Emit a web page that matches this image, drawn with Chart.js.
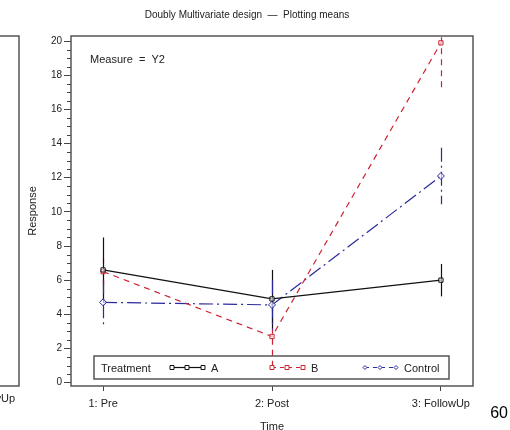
<!DOCTYPE html>
<html>
<head>
<meta charset="utf-8">
<script src="https://cdn.jsdelivr.net/npm/chart.js@4.4.1/dist/chart.umd.min.js"></script>
<style>
  html, body { margin: 0; padding: 0; background: #fff; }
  #wrap { width: 510px; height: 430px; position: relative; }
</style>
</head>
<body>
<div id="wrap"><canvas id="c" width="510" height="430"></canvas></div>
<script>
// Time points on the x axis
const timePoints = ['1: Pre', '2: Post', '3: FollowUp'];
// Group means of Y2 at each time point
const meansA = [6.6, 4.9, 6.0];
const meansB = [6.5, 2.7, 19.9];
const meansControl = [4.7, 4.55, 12.1];
// Half-length of the error bar at each time point
const errA = [1.9, 1.7, 0.95];
const errB = [0.8, 1.8, 2.9];
const errControl = [1.3, 1.45, 1.65];
// Labelled ticks on the response axis
const yTicks = [0, 2, 4, 6, 8, 10, 12, 14, 16, 18, 20];

const FONT = "'Liberation Sans', Arial, sans-serif";
const TXT = '#222';

const groups = [
  { label: 'A', means: meansA, err: errA, color: '#111111', dash: [], marker: 'rect' },
  { label: 'B', means: meansB, err: errB, color: '#cc2233', dash: [6, 5], marker: 'rect' },
  { label: 'Control', means: meansControl, err: errControl, color: '#2a2a9a', dash: [14, 4, 2, 4], marker: 'rectRot' }
];

const toPoints = arr => arr.map((v, i) => ({ x: i + 1, y: v }));

// Vertical error bars at each mean, drawn through the chart scales
const errorBars = {
  id: 'errorBars',
  beforeDatasetsDraw(chart) {
    const { ctx, chartArea: ca, scales: { x, y } } = chart;
    ctx.save();
    ctx.beginPath();
    ctx.rect(ca.left, ca.top, ca.right - ca.left, ca.bottom - ca.top);
    ctx.clip();
    const order = [1, 0, 2];
    order.forEach(gi => {
      const g = groups[gi];
      ctx.strokeStyle = g.color;
      ctx.lineWidth = 1.2;
      ctx.setLineDash(g.dash);
      g.means.forEach((m, i) => {
        const px = Math.round(x.getPixelForValue(i + 1)) + 0.5;
        ctx.beginPath();
        ctx.moveTo(px, y.getPixelForValue(m + g.err[i]));
        ctx.lineTo(px, y.getPixelForValue(m - g.err[i]));
        ctx.stroke();
      });
    });
    ctx.restore();
  }
};

function drawMarker(ctx, kind, cx, cy, r, color) {
  ctx.save();
  ctx.setLineDash([]);
  ctx.strokeStyle = color;
  ctx.fillStyle = '#fff';
  ctx.lineWidth = 1;
  ctx.beginPath();
  if (kind === 'rectRot') {
    ctx.moveTo(cx, cy - r); ctx.lineTo(cx + r, cy); ctx.lineTo(cx, cy + r); ctx.lineTo(cx - r, cy); ctx.closePath();
  } else {
    ctx.rect(cx - r, cy - r, 2 * r, 2 * r);
  }
  ctx.fill();
  ctx.stroke();
  ctx.restore();
}

// Frame, minor ticks, legend and annotations
const decorations = {
  id: 'decorations',
  afterDraw(chart) {
    const { ctx, chartArea: ca, scales: { y } } = chart;
    ctx.save();

    // plot frame
    ctx.strokeStyle = '#555';
    ctx.lineWidth = 1.5;
    ctx.strokeRect(ca.left, ca.top, ca.right - ca.left, ca.bottom - ca.top);

    // minor ticks on the response axis
    ctx.lineWidth = 1;
    ctx.strokeStyle = '#444';
    for (let v = 0; v <= 20; v += 0.5) {
      if (v % 2 === 0) continue;
      const py = Math.round(y.getPixelForValue(v)) + 0.5;
      ctx.beginPath();
      ctx.moveTo(ca.left - 4, py);
      ctx.lineTo(ca.left, py);
      ctx.stroke();
    }

    // title
    ctx.fillStyle = TXT;
    ctx.font = '10px ' + FONT;
    ctx.textAlign = 'center';
    ctx.textBaseline = 'middle';
    ctx.fillText('Doubly Multivariate design  \u2014  Plotting means', 247, 15);

    // measure label
    ctx.font = '11px ' + FONT;
    ctx.textAlign = 'left';
    ctx.fillText('Measure  =  Y2', ca.left + 19, ca.top + 24);

    // legend
    const lx0 = ca.left + 23, lx1 = ca.right - 24, ly0 = ca.bottom - 30, ly1 = ca.bottom - 7;
    ctx.strokeStyle = '#555';
    ctx.lineWidth = 1.5;
    ctx.strokeRect(lx0, ly0, lx1 - lx0, ly1 - ly0);
    const ly = (ly0 + ly1) / 2;
    ctx.fillStyle = TXT;
    ctx.font = '11px ' + FONT;
    ctx.fillText('Treatment', lx0 + 7, ly + 1);
    const sampleX = [lx0 + 78, lx0 + 178, lx0 + 271];
    groups.forEach((g, gi) => {
      const sx = sampleX[gi];
      ctx.save();
      ctx.strokeStyle = g.color;
      ctx.lineWidth = 1.2;
      ctx.setLineDash(g.dash.length ? [4, 4] : []);
      ctx.beginPath();
      ctx.moveTo(sx, ly);
      ctx.lineTo(sx + 31, ly);
      ctx.stroke();
      ctx.restore();
      [0, 15, 31].forEach(dx => drawMarker(ctx, g.marker, sx + dx, ly, 2, g.color));
      ctx.fillStyle = TXT;
      ctx.fillText(g.label, sx + 39, ly + 1);
    });

    // edge of the neighbouring panel
    ctx.strokeStyle = '#555';
    ctx.lineWidth = 1.5;
    ctx.beginPath();
    ctx.moveTo(0, ca.top); ctx.lineTo(19, ca.top); ctx.lineTo(19, ca.bottom); ctx.lineTo(0, ca.bottom);
    ctx.stroke();
    ctx.fillStyle = TXT;
    ctx.font = '11px ' + FONT;
    ctx.textAlign = 'right';
    ctx.fillText('3: FollowUp', 15, 399);

    // page number
    ctx.fillStyle = '#000';
    ctx.font = '16px ' + FONT;
    ctx.textAlign = 'right';
    ctx.fillText('60', 508, 414);

    ctx.restore();
  }
};

new Chart(document.getElementById('c'), {
  type: 'line',
  data: {
    datasets: groups.map(g => ({
      label: g.label,
      data: toPoints(g.means),
      borderColor: g.color,
      borderWidth: 1.2,
      borderDash: g.dash,
      pointStyle: g.marker,
      pointRadius: g.marker === 'rectRot' ? 3.5 : 3,
      pointBorderWidth: 1,
      pointBorderColor: g.color,
      pointBackgroundColor: 'rgba(255,255,255,0.6)',
      tension: 0,
      fill: false
    }))
  },
  options: {
    responsive: false,
    animation: false,
    devicePixelRatio: 1,
    layout: { padding: { top: 36, right: 37, left: 0, bottom: 0 } },
    plugins: { legend: { display: false }, title: { display: false }, tooltip: { enabled: false } },
    scales: {
      x: {
        type: 'linear',
        min: 0.81,
        max: 3.19,
        afterBuildTicks: s => { s.ticks = timePoints.map((_, i) => ({ value: i + 1 })); },
        afterFit: s => { s.height = 44; },
        grid: { drawOnChartArea: false, tickLength: 5, color: '#444' },
        border: { display: false },
        ticks: {
          callback: v => timePoints[v - 1],
          color: TXT,
          font: { family: FONT, size: 11 },
          padding: 6,
          maxRotation: 0,
          autoSkip: false
        },
        title: { display: true, text: 'Time', color: TXT, font: { family: FONT, size: 11 }, padding: { top: 0, bottom: -4 } }
      },
      y: {
        min: -0.2,
        max: 20.3,
        afterBuildTicks: s => { s.ticks = yTicks.map(v => ({ value: v })); },
        afterFit: s => { s.width = 71; },
        grid: { drawOnChartArea: false, tickLength: 7, color: '#444' },
        border: { display: false },
        ticks: { color: TXT, font: { family: FONT, size: 10 }, padding: 2 },
        title: { display: true, text: 'Response', color: TXT, font: { family: FONT, size: 11 }, padding: { top: 26, bottom: 0 } }
      }
    }
  },
  plugins: [errorBars, decorations]
});
</script>
</body>
</html>
